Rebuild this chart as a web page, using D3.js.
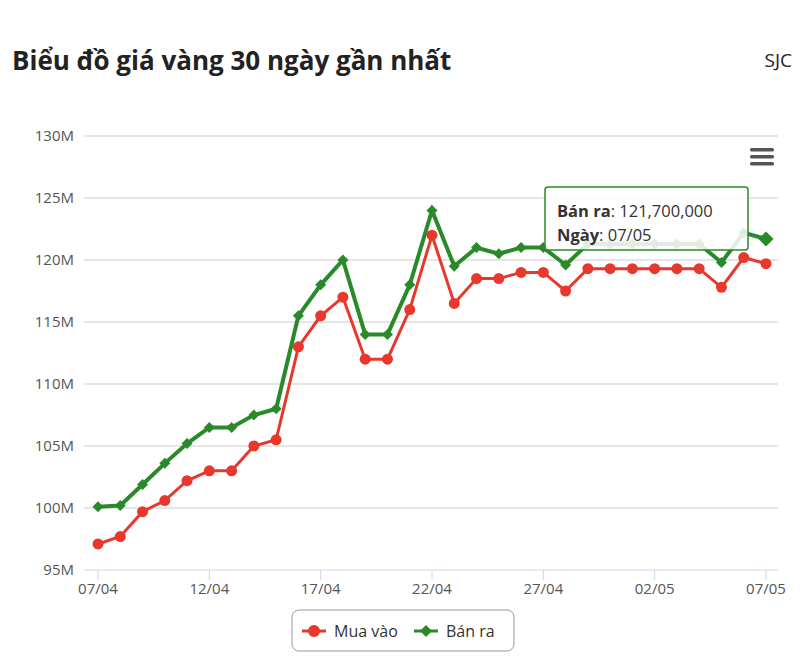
<!DOCTYPE html><html><head><meta charset="utf-8"><script src="https://cdn.jsdelivr.net/npm/d3@7"></script>
<style>body{margin:0;background:#fff;font-family:"Open Sans",sans-serif}</style></head><body><svg id="c" width="811" height="659"></svg>
<script>
const dates=["07/04","08/04","09/04","10/04","11/04","12/04","13/04","14/04","15/04","16/04","17/04","18/04","19/04","20/04","21/04","22/04","23/04","24/04","25/04","26/04","27/04","28/04","29/04","30/04","01/05","02/05","03/05","04/05","05/05","06/05","07/05"];
const muaVao=[97.1,97.7,99.7,100.6,102.2,103.0,103.0,105.0,105.5,113.0,115.5,117.0,112.0,112.0,116.0,122.0,116.5,118.5,118.5,119.0,119.0,117.5,119.3,119.3,119.3,119.3,119.3,119.3,117.8,120.2,119.7];
const banRa=[100.1,100.2,101.9,103.6,105.2,106.5,106.5,107.5,108.0,115.5,118.0,120.0,114.0,114.0,118.0,124.0,119.5,121.0,120.5,121.0,121.0,119.6,121.3,121.3,121.3,121.3,121.3,121.3,119.8,122.2,121.7];
const yTicks=[95,100,105,110,115,120,125,130];
const xTickLabels=["07/04","12/04","17/04","22/04","27/04","02/05","07/05"];
const svg=d3.select("#c");
svg.append("text").attr("x",12).attr("y",70).attr("font-size",26).attr("font-weight",700).attr("fill","#222").text("Biểu đồ giá vàng 30 ngày gần nhất");
svg.append("text").attr("x",792).attr("y",67).attr("text-anchor","end").attr("font-size",19).attr("fill","#222").text("SJC");
const x=d3.scalePoint().domain(dates).range([98,766]);
const y=d3.scaleLinear().domain([95,130]).range([570,136]);
const g=svg.append("g");
yTicks.forEach(t=>{g.append("line").attr("x1",84).attr("x2",778).attr("y1",y(t)).attr("y2",y(t)).attr("stroke",t===95?"#ccd6eb":"#ccc").attr("stroke-width",1);
g.append("text").attr("x",74).attr("y",y(t)+5).attr("text-anchor","end").attr("font-size",15).attr("fill","#555").text(t+"M");});
xTickLabels.forEach(t=>{g.append("line").attr("x1",x(t)).attr("x2",x(t)).attr("y1",570).attr("y2",580).attr("stroke","#ccd6eb");
g.append("text").attr("x",x(t)).attr("y",594).attr("text-anchor","middle").attr("font-size",15).attr("fill","#555").text(t);});
const line=d3.line().x((d,i)=>x(dates[i])).y(d=>y(d));
g.append("path").attr("d",line(muaVao)).attr("fill","none").attr("stroke","#e8382d").attr("stroke-width",3);
g.append("path").attr("d",line(banRa)).attr("fill","none").attr("stroke","#2a8a2a").attr("stroke-width",4);
muaVao.forEach((v,i)=>g.append("circle").attr("cx",x(dates[i])).attr("cy",y(v)).attr("r",5.5).attr("fill","#e8382d"));
const dia=r=>`M0,${-r}L${r},0L0,${r}L${-r},0Z`;
banRa.forEach((v,i)=>g.append("path").attr("d",dia(i===30?7.5:5.5)).attr("transform",`translate(${x(dates[i])},${y(v)})`).attr("fill","#2a8a2a"));
[148,155,162].forEach(yy=>svg.append("rect").attr("x",750).attr("y",yy).attr("width",24).attr("height",3.5).attr("rx",1.5).attr("fill","#555"));
const tt=svg.append("g").attr("transform","translate(545,187)");
tt.append("rect").attr("width",203).attr("height",63).attr("rx",3).attr("fill","rgba(255,255,255,0.85)").attr("stroke","#2a8a2a").attr("stroke-width",1.5);
const t1=tt.append("text").attr("x",12).attr("y",30).attr("font-size",16.5).attr("fill","#333");
t1.append("tspan").attr("font-weight",700).text("Bán ra");t1.append("tspan").text(": 121,700,000");
const t2=tt.append("text").attr("x",12).attr("y",54).attr("font-size",16.5).attr("fill","#333");
t2.append("tspan").attr("font-weight",700).text("Ngày");t2.append("tspan").text(": 07/05");
const lg=svg.append("g");
lg.append("rect").attr("x",292).attr("y",610).attr("width",222).attr("height",41).attr("rx",7).attr("fill","#fff").attr("stroke","#999");
lg.append("line").attr("x1",302).attr("x2",326).attr("y1",631).attr("y2",631).attr("stroke","#e8382d").attr("stroke-width",3);
lg.append("circle").attr("cx",314).attr("cy",631).attr("r",6).attr("fill","#e8382d");
lg.append("text").attr("x",334).attr("y",637).attr("font-size",16).attr("fill","#333").text("Mua vào");
lg.append("line").attr("x1",414).attr("x2",438).attr("y1",631).attr("y2",631).attr("stroke","#2a8a2a").attr("stroke-width",3);
lg.append("path").attr("d",dia(6)).attr("transform","translate(426,631)").attr("fill","#2a8a2a");
lg.append("text").attr("x",446).attr("y",637).attr("font-size",16).attr("fill","#333").text("Bán ra");
</script></body></html>
